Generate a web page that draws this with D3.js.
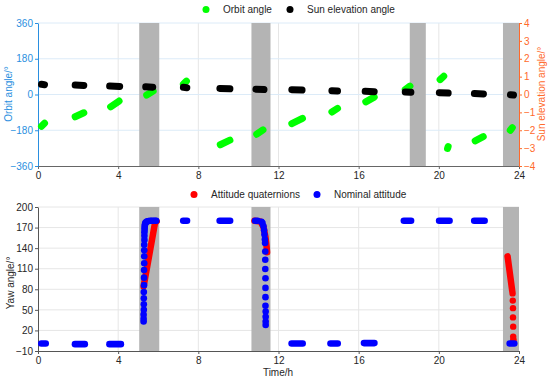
<!doctype html>
<html>
  <meta charset="utf-8">
  <head>
    <script src="https://d3js.org/d3.v7.min.js"></script>
    <style type='text/css'>
      body{margin:0;background:#fff;}
      svg{font-family:'Liberation Sans',Arial,sans-serif;}
      text{font-size:10px;}
    </style>
  </head>
  <body>
    <svg id='chart' width='550' height='381'></svg>
    <script type='text/javascript'>
      // eclipse / maneuver windows (hours)
      var bandsTop = [[5.05,6.05],[10.65,11.6],[18.55,19.35],[23.2,24]];
      var bandsBot = [[5.05,6.05],[10.65,11.6],[23.2,24]];

      // orbit angle segments: [t0, t1, v0, v1] (outer extents)
      var orbitSeg = [
        [0,0.5,-160,-145],[1.68,2.46,-112,-92],[3.45,4.22,-62,-33],[5.25,5.92,-3,17],
        [7.08,7.58,53,67],[8.92,9.75,-253,-230],[10.74,11.4,-200,-178],[12.49,13.37,-147,-120],
        [14.49,15.12,-88,-70],[16.18,16.95,-37,-13],[18.15,18.73,25,42],[19.89,20.42,75,92],
        [20.26,20.64,-272,-262],[21.64,22.39,-233,-212],[23.39,23.84,-180,-167]
      ];
      // sun elevation segments: [t0, t1, v0, v1]
      var sunSeg = [
        [0,0.5,0.57,0.55],[1.68,2.46,0.53,0.51],[3.4,4.25,0.47,0.45],[5.2,5.9,0.43,0.41],
        [7.08,7.6,0.40,0.38],[8.9,9.75,0.34,0.32],[10.7,11.45,0.30,0.28],[12.49,13.35,0.27,0.25],
        [14.49,15.12,0.21,0.19],[16.15,16.95,0.18,0.16],[18.15,18.78,0.14,0.12],[19.85,20.64,0.10,0.08],
        [21.6,22.4,0.05,0.03],[23.4,23.9,-0.01,-0.03]
      ];

      // nominal attitude flat runs: [t0, t1, v]
      var nomFlat = [
        [0,0.55,1],[1.68,2.5,0],[3.4,4.3,0],[7.08,7.6,180],[8.9,9.75,180],[10.67,11.12,180],
        [12.49,13.37,1],[14.43,15.12,1],[16.1,16.95,1.5],[18.09,18.78,180],[19.85,20.7,180],
        [21.6,22.45,180],[23.37,23.93,1]
      ];
      // nominal attitude during maneuvers: [t, v]
      var nomPts = [
        [5.27,33],[5.27,37],[5.27,43],[5.28,50],[5.28,58],[5.28,67],[5.28,76],[5.29,86],
        [5.29,97],[5.29,108],[5.3,118],[5.3,128],[5.3,137],[5.3,145],[5.31,152],[5.31,158],
        [5.31,163],[5.32,167],[5.32,170],[5.33,173],[5.34,175],[5.36,177],[5.4,178],[5.45,179],
        [5.52,179.5],[5.6,180],[5.68,180],[5.76,180],[5.84,180],[5.9,180],
        [11.15,178.5],[11.2,176.5],[11.25,172],[11.28,166],[11.3,160],[11.32,153],
        [11.33,147.5],[11.34,135],[11.34,123],[11.34,109.5],[11.35,96],[11.35,82],
        [11.35,68.5],[11.35,56],[11.36,47.5],[11.36,40],[11.36,33],[11.36,28]
      ];
      // attitude quaternion yaw: lines [t, v] and loose points
      var quatLines = [
        [[5.27,84],[5.84,177],[5.92,179]],
        [[10.8,180],[11.1,179],[11.25,171],[11.35,156],[11.41,141],[11.43,134]],
        [[23.43,128],[23.66,78]]
      ];
      var quatPts = [
        [23.68,74],[23.69,63.5],[23.7,52.5],[23.7,39],[23.71,25.5],[23.71,11],[23.72,7],[23.72,4]
      ];

      var xTicks = [0,4,8,12,16,20,24];
      var yTopTicks = [-360,-180,0,180,360];
      var yRightTicks = [-4,-3,-2,-1,0,1,2,3,4];
      var yBotTicks = [-10,20,50,80,110,140,170,200];

      var blueAx = '#2a8fe0', orangeAx = '#ff6a2b', grayAx = '#555';
      var svg = d3.select('#chart');

      var xScale = d3.scaleLinear().domain([0,24]).range([38,519]);
      var yTop = d3.scaleLinear().domain([-360,360]).range([166,23]);
      var yRight = d3.scaleLinear().domain([-4,4]).range([166,23]);
      var yBot = d3.scaleLinear().domain([-10,200]).range([351,207]);

      function grid(g, yS, yT, top, bot, hColor){
        g.selectAll('line.vg').data(xTicks.slice(1,-1)).enter().append('line')
          .attr('x1',d=>xScale(d)).attr('x2',d=>xScale(d))
          .attr('y1',top).attr('y2',bot).style('stroke','#e6e6e6');
        g.selectAll('line.hg').data(yT.slice(1)).enter().append('line')
          .attr('x1',38).attr('x2',519)
          .attr('y1',d=>yS(d)).attr('y2',d=>yS(d)).style('stroke',hColor);
      }
      function bands(g, data, top, bot){
        g.selectAll('rect').data(data).enter().append('rect')
          .attr('x',d=>xScale(d[0])).attr('width',d=>xScale(d[1])-xScale(d[0]))
          .attr('y',top).attr('height',bot-top).attr('fill','#b4b4b4');
      }
      function segs(g, data, yS, color, r){
        // outer extents -> inset by cap radius
        g.selectAll('line.s').data(data).enter().append('line')
          .attr('x1',d=>xScale(d[0])+r).attr('x2',d=>xScale(d[1])-r)
          .attr('y1',d=>yS(d[2])).attr('y2',d=>yS(d[d.length>3?3:2]))
          .style('stroke',color).style('stroke-width',2*r).style('stroke-linecap','round');
      }
      function styleAxis(g, color){
        g.selectAll('path.domain').style('stroke',color);
        g.selectAll('g.tick line').style('stroke',color);
        g.selectAll('g.tick text').style('fill',color).style('font-size','10px')
          .style('font-family','Liberation Sans, Arial, sans-serif');
      }

      // ---- top panel ----
      var gt = svg.append('g');
      grid(gt, yTop, yTopTicks, 23, 166, '#dcebf8');
      bands(gt, bandsTop, 23, 166);

      gt.append('g').attr('transform','translate(0,166)')
        .call(d3.axisBottom(xScale).tickValues(xTicks).tickSize(3).tickPadding(3).tickSizeOuter(0))
        .call(g=>styleAxis(g,'#666')).call(g=>g.selectAll('g.tick text').style('fill','#262626'));
      gt.append('g').attr('transform','translate(38,0)')
        .call(d3.axisLeft(yTop).tickValues(yTopTicks).tickSize(3).tickPadding(2).tickSizeOuter(0))
        .call(g=>styleAxis(g,blueAx));
      gt.append('g').attr('transform','translate(519,0)')
        .call(d3.axisRight(yRight).tickValues(yRightTicks).tickSize(3).tickPadding(2).tickSizeOuter(0))
        .call(g=>styleAxis(g,orangeAx));

      segs(gt.append('g'), orbitSeg, yTop, '#00ff00', 3.5);
      segs(gt.append('g'), sunSeg, yRight, '#000', 3.5);

      gt.append('text').attr('transform','translate(12,94) rotate(-90)')
        .attr('text-anchor','middle').style('fill',blueAx).text('Orbit angle/°');
      gt.append('text').attr('transform','translate(545,94) rotate(-90)')
        .attr('text-anchor','middle').style('fill',orangeAx).text('Sun elevation angle/°');

      // top legend
      gt.append('circle').attr('cx',206).attr('cy',9.5).attr('r',3.5).attr('fill','#00ff00');
      gt.append('text').attr('x',223).attr('y',13).style('fill','#262626').text('Orbit angle');
      gt.append('circle').attr('cx',290).attr('cy',9.5).attr('r',3.5).attr('fill','#000');
      gt.append('text').attr('x',307).attr('y',13).style('fill','#262626').text('Sun elevation angle');

      // ---- bottom panel ----
      var gb = svg.append('g');
      grid(gb, yBot, yBotTicks, 207, 351, '#e6e6e6');
      bands(gb, bandsBot, 207, 351);

      gb.append('g').attr('transform','translate(0,351)')
        .call(d3.axisBottom(xScale).tickValues(xTicks).tickSize(3).tickPadding(3).tickSizeOuter(0))
        .call(g=>styleAxis(g,grayAx)).call(g=>g.selectAll('g.tick text').style('fill','#262626'));
      gb.append('g').attr('transform','translate(38,0)')
        .call(d3.axisLeft(yBot).tickValues(yBotTicks).tickSize(3).tickPadding(2).tickSizeOuter(0))
        .call(g=>styleAxis(g,grayAx)).call(g=>g.selectAll('g.tick text').style('fill','#262626'));

      var line = d3.line().x(d=>xScale(d[0])).y(d=>yBot(d[1]));
      gb.append('g').selectAll('path').data(quatLines).enter().append('path')
        .attr('d',line).style('fill','none').style('stroke','#ff0000')
        .style('stroke-width',6.5).style('stroke-linecap','round').style('stroke-linejoin','round');
      gb.append('g').selectAll('circle').data(quatPts).enter().append('circle')
        .attr('cx',d=>xScale(d[0])).attr('cy',d=>yBot(d[1])).attr('r',3.2).attr('fill','#ff0000');

      gb.append('g').selectAll('line').data(nomFlat).enter().append('line')
        .attr('x1',d=>xScale(d[0])+3.3).attr('x2',d=>xScale(d[1])-3.3)
        .attr('y1',d=>yBot(d[2])).attr('y2',d=>yBot(d[2]))
        .style('stroke','#0000ff').style('stroke-width',6.6).style('stroke-linecap','round');
      gb.append('g').selectAll('circle').data(nomPts).enter().append('circle')
        .attr('cx',d=>xScale(d[0])).attr('cy',d=>yBot(d[1])).attr('r',3.3).attr('fill','#0000ff');

      gb.append('text').attr('transform','translate(14,283) rotate(-90)')
        .attr('text-anchor','middle').style('fill','#262626').text('Yaw angle/°');
      gb.append('text').attr('x',278).attr('y',376).attr('text-anchor','middle')
        .style('fill','#262626').text('Time/h');

      // bottom legend
      gb.append('circle').attr('cx',194).attr('cy',194.5).attr('r',3.5).attr('fill','#ff0000');
      gb.append('text').attr('x',211).attr('y',198).style('fill','#262626').text('Attitude quaternions');
      gb.append('circle').attr('cx',317).attr('cy',194.5).attr('r',3.5).attr('fill','#0000ff');
      gb.append('text').attr('x',334).attr('y',198).style('fill','#262626').text('Nominal attitude');
    </script>
  </body>
</html>
